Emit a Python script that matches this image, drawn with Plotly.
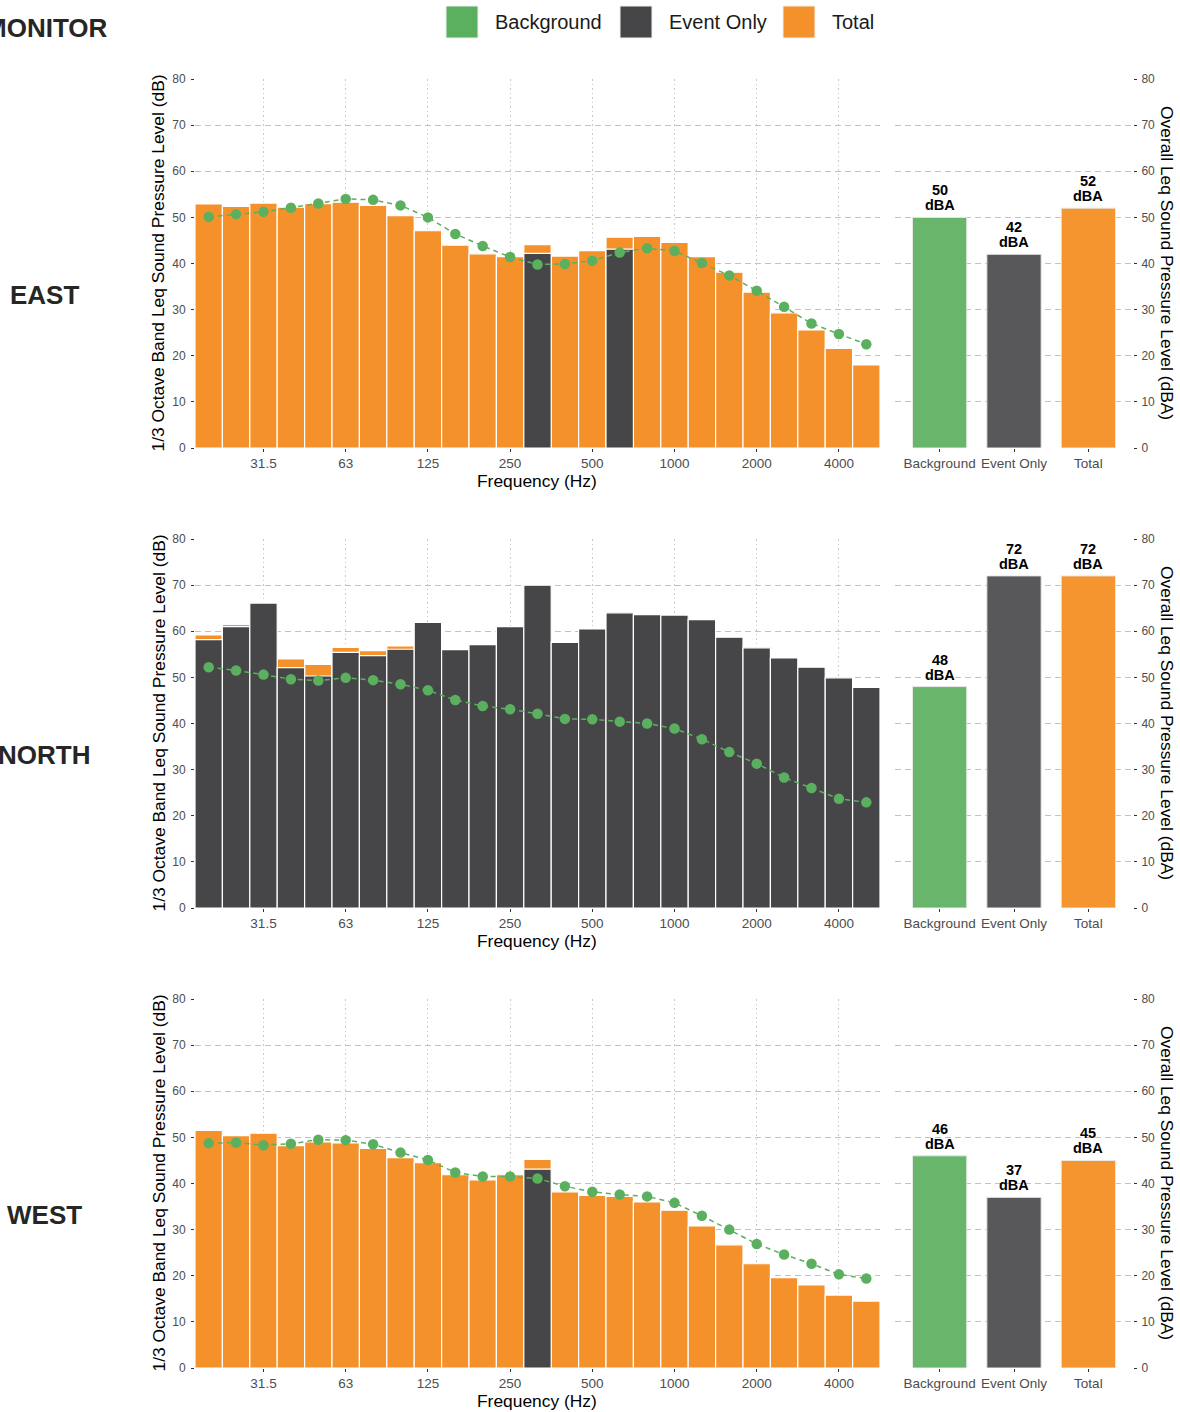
import plotly.graph_objects as go

W, H = 1180, 1412

bands = ["20", "25", "31.5", "40", "50", "63", "80", "100", "125", "160", "200", "250",
         "315", "400", "500", "630", "800", "1000", "1250", "1600", "2000", "2500",
         "3150", "4000", "5000"]
tick_labels = ["31.5", "63", "125", "250", "500", "1000", "2000", "4000"]
sites = ["EAST", "NORTH", "WEST"]
overall_cats = ["Background", "Event Only", "Total"]

east_total = [52.9, 52.4, 53.1, 52.2, 53.0, 53.3, 52.6, 50.4, 47.1, 44.0, 42.1, 41.5,
              44.1, 41.6, 42.8, 45.7, 45.9, 44.6, 41.5, 38.1, 33.8, 29.3, 25.6, 21.6, 18.0]
east_event = [None] * 12 + [42.2, None, None, 43.1] + [None] * 9
east_bg = [50.1, 50.7, 51.2, 52.1, 53.0, 54.0, 53.8, 52.6, 50.0, 46.4, 43.8, 41.4,
           39.8, 39.9, 40.6, 42.4, 43.3, 42.7, 40.1, 37.4, 34.1, 30.6, 27.0, 24.7, 22.5]
east_overall = [50, 42, 52]

north_total = [59.2, 61.5, 66.1, 54.0, 52.8, 56.5, 55.8, 56.8, 61.9, 56.0, 57.1, 61.0,
               70.0, 57.6, 60.5, 64.0, 63.6, 63.5, 62.5, 58.7, 56.4, 54.2, 52.2, 49.9, 47.8]
north_event = [58.2, 61.0, 66.1, 52.1, 50.3, 55.4, 54.7, 56.1, 61.9, 56.0, 57.1, 61.0,
               70.0, 57.6, 60.5, 64.0, 63.6, 63.5, 62.5, 58.7, 56.4, 54.2, 52.2, 49.9, 47.8]
north_bg = [52.2, 51.5, 50.6, 49.6, 49.3, 49.9, 49.4, 48.5, 47.2, 45.1, 43.8, 43.1,
            42.1, 41.0, 40.9, 40.4, 40.0, 38.9, 36.6, 33.8, 31.3, 28.3, 26.0, 23.7, 22.9]
north_overall = [48, 72, 72]

west_total = [51.5, 50.4, 50.9, 48.2, 49.0, 48.8, 47.6, 45.6, 44.5, 41.9, 40.8, 41.9,
              45.2, 38.2, 37.4, 37.2, 36.0, 34.2, 30.8, 26.7, 22.6, 19.6, 18.0, 15.8, 14.5]
west_event = [None] * 12 + [43.1] + [None] * 12
west_bg = [48.7, 48.9, 48.3, 48.6, 49.5, 49.4, 48.5, 46.7, 45.1, 42.4, 41.5, 41.5,
           41.1, 39.4, 38.2, 37.6, 37.2, 35.8, 33.0, 30.0, 26.9, 24.6, 22.6, 20.3, 19.4]
west_overall = [46, 37, 45]

totals = [east_total, north_total, west_total]
events = [east_event, north_event, west_event]
bgs = [east_bg, north_bg, west_bg]
overalls = [east_overall, north_overall, west_overall]

C_GREEN = "#5BB05F"
C_DARK = "#464648"
C_ORANGE = "#F5912B"
C_GREEN_R = "#67B66B"
C_DARK_R = "#58585A"
C_ORANGE_R = "#F5952F"
FONT = "Liberation Sans, Arial, sans-serif"


def px(x):
    return x / W


def py(y):
    return 1 - y / H


fig = go.Figure()
layout = dict(template="none", width=W, height=H, margin=dict(l=0, r=0, t=0, b=0, pad=0),
              paper_bgcolor="white", plot_bgcolor="white", showlegend=False,
              barmode="overlay", font=dict(family=FONT), annotations=[], shapes=[])

L_X = [195, 880]
R_X = [895, 1133]
TOPS = [79, 539, 999]
PLOT_H = 369

hgrid = dict(gridcolor="#c2c2c2", griddash="6px,4px", gridwidth=1)
ytickfont = dict(size=12, color="#4d4d4d", family=FONT)
xtickfont = dict(size=13.5, color="#4d4d4d", family=FONT)
title_font = dict(size=17.4, color="black", family=FONT)
tickstyle = dict(ticks="outside", ticklen=3, tickwidth=1, tickcolor="#333333",
                 showline=False, zeroline=False, automargin=False)

for r in range(3):
    top = TOPS[r]
    bot = top + PLOT_H
    ydom = [py(bot), py(top)]
    xl, yl = 2 * r + 1, 2 * r + 1
    xr, yr = 2 * r + 2, 2 * r + 2
    xl_n = "x" if xl == 1 else f"x{xl}"
    yl_n = "y" if yl == 1 else f"y{yl}"
    xr_n, yr_n = f"x{xr}", f"y{yr}"

    # left panel: 1/3 octave spectrum
    fig.add_trace(go.Bar(x=bands, y=totals[r], xaxis=xl_n, yaxis=yl_n, width=1,
                         marker=dict(color=C_ORANGE, line=dict(color="white", width=1.2)),
                         name="Total"))
    fig.add_trace(go.Bar(x=bands, y=events[r], xaxis=xl_n, yaxis=yl_n, width=1,
                         marker=dict(color=C_DARK, line=dict(color="white", width=1.2)),
                         name="Event Only"))
    fig.add_trace(go.Scatter(x=bands, y=bgs[r], xaxis=xl_n, yaxis=yl_n, mode="lines+markers",
                             line=dict(color=C_GREEN, dash="5px,4px", width=1.5),
                             marker=dict(color=C_GREEN, size=10.5), name="Background",
                             cliponaxis=False))
    # right panel: overall levels
    fig.add_trace(go.Bar(x=overall_cats, y=overalls[r], xaxis=xr_n, yaxis=yr_n, width=0.73,
                         marker=dict(color=[C_GREEN_R, C_DARK_R, C_ORANGE_R],
                                     line=dict(color="#e8e8e8", width=1))))
    for cat, v in zip(overall_cats, overalls[r]):
        layout["annotations"].append(dict(
            text=f"<b>{v}</b>", x=cat, y=v, xref=xr_n, yref=yr_n, showarrow=False,
            xanchor="center", yanchor="bottom", yshift=17,
            font=dict(size=14.5, color="black", family=FONT)))
        layout["annotations"].append(dict(
            text="<b>dBA</b>", x=cat, y=v, xref=xr_n, yref=yr_n, showarrow=False,
            xanchor="center", yanchor="bottom", yshift=2,
            font=dict(size=14.5, color="black", family=FONT)))

    layout[f"xaxis{xl}" if xl > 1 else "xaxis"] = dict(
        domain=[px(L_X[0]), px(L_X[1])], anchor=yl_n, type="category",
        range=[-0.5, 24.5], tickmode="array", tickvals=tick_labels, ticktext=tick_labels,
        showgrid=True, gridcolor="#c8c8c8", griddash="1.5px,3px", gridwidth=1,
        tickfont=xtickfont, fixedrange=True, **tickstyle)
    layout[f"yaxis{yl}" if yl > 1 else "yaxis"] = dict(
        domain=ydom, anchor=xl_n, range=[0, 80], dtick=10, tick0=0,
        tickfont=ytickfont, ticklabelstandoff=3, **tickstyle, **hgrid)
    layout[f"xaxis{xr}"] = dict(
        domain=[px(R_X[0]), px(R_X[1])], anchor=yr_n, type="category",
        range=[-0.6, 2.6], showgrid=False, tickfont=xtickfont, **tickstyle)
    layout[f"yaxis{yr}"] = dict(
        domain=ydom, anchor=xr_n, side="right", range=[0, 80], dtick=10, tick0=0,
        tickfont=ytickfont, ticklabelstandoff=2, **tickstyle, **hgrid)

    # titles
    layout["annotations"].append(dict(
        text="1/3 Octave Band Leq Sound Pressure Level (dB)", xref="paper", yref="paper",
        x=px(158), y=py((top + bot) / 2), textangle=-90, showarrow=False,
        xanchor="center", yanchor="middle", font=title_font))
    layout["annotations"].append(dict(
        text="Overall Leq Sound Pressure Level (dBA)", xref="paper", yref="paper",
        x=px(1167), y=py(top + 184), textangle=90, showarrow=False,
        xanchor="center", yanchor="middle", font=title_font))
    layout["annotations"].append(dict(
        text="Frequency (Hz)", xref="paper", yref="paper",
        x=px(537), y=py(bot + 33), showarrow=False,
        xanchor="center", yanchor="middle", font=title_font))
    layout["annotations"].append(dict(
        text=f"<b>{sites[r]}</b>", xref="paper", yref="paper",
        x=px(44), y=py(295 + 460 * r), showarrow=False,
        xanchor="center", yanchor="middle", font=dict(size=26, color="#262626", family=FONT)))

layout["annotations"].append(dict(
    text="<b>MONITOR</b>", xref="paper", yref="paper", x=px(46), y=py(28), showarrow=False,
    xanchor="center", yanchor="middle", font=dict(size=26, color="#262626", family=FONT)))

# legend (drawn manually for large key squares)
legend_items = [("Background", C_GREEN, 446, 493), ("Event Only", C_DARK, 620, 667),
                ("Total", C_ORANGE, 783, 830)]
for label, col, sx, tx in legend_items:
    layout["shapes"].append(dict(type="rect", xref="paper", yref="paper",
                                 x0=px(sx), x1=px(sx + 32), y0=py(38), y1=py(6),
                                 fillcolor=col, line=dict(color="#f0f0f0", width=1)))
    layout["annotations"].append(dict(
        text=label, xref="paper", yref="paper", x=px(tx), y=py(22), showarrow=False,
        xanchor="left", yanchor="middle", font=dict(size=20, color="#1a1a1a", family=FONT)))

fig.update_layout(**layout)
fig.write_html("out.html", config={"displayModeBar": False},
               post_script="document.body.style.margin='0';")
